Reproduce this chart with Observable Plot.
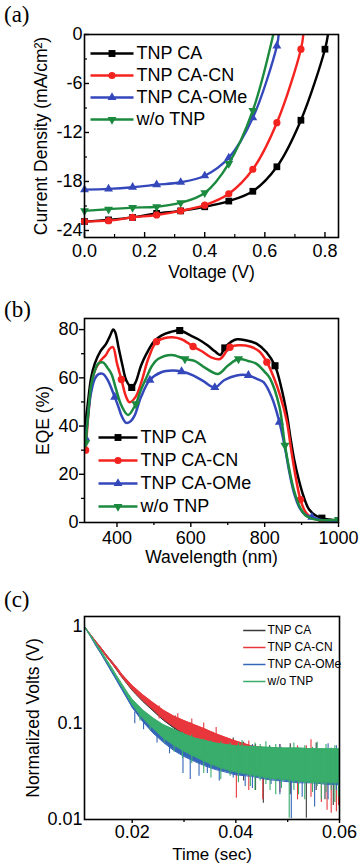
<!DOCTYPE html>
<html><head><meta charset="utf-8">
<script src="https://cdn.jsdelivr.net/npm/d3@7"></script>
<script src="https://cdn.jsdelivr.net/npm/@observablehq/plot@0.6"></script>
<style>
body{margin:0;background:#fff;}
.panel{position:relative;width:360px;overflow:hidden;}
.plabel{position:absolute;left:4px;font-family:"Liberation Serif","Times New Roman",serif;font-size:23px;line-height:1;color:#000;}
.leg{position:absolute;}
</style></head><body>
<div id="pa" class="panel" style="height:290px"><div class="plabel" style="top:3px">(a)</div></div>
<div id="pb" class="panel" style="height:290px"><div class="plabel" style="top:8px">(b)</div></div>
<div id="pc" class="panel" style="height:285px"><div class="plabel" style="top:8px">(c)</div></div>
<script>
const FONT = '"Liberation Sans", Arial, Helvetica, sans-serif';
const names = ["TNP CA", "TNP CA-CN", "TNP CA-OMe", "w/o TNP"];
const colorsAB = ["#000000", "#f5231f", "#3448bb", "#1b8a3f"];
const colorsC = ["#3a3a3a", "#e8373c", "#3566b8", "#39ad6b"];
const symbols = ["square", "circle", "triangle", "triangle"];
const rotations = [0, 0, 0, 180];

// ---------- (a) J-V ----------
const voltage = [0, 0.08, 0.16, 0.24, 0.32, 0.40, 0.48, 0.56, 0.64, 0.72, 0.80];
const jCA  = [-22.9, -22.7, -22.4, -21.9, -21.6, -21.1, -20.4, -19.2, -16.2, -10.5, -1.8];
const jCN  = [-22.9, -22.8, -22.4, -22.1, -21.6, -20.9, -19.5, -16.5, -10.8, -1.8];
const jOMe = [-19.0, -18.9, -18.7, -18.4, -18.1, -17.3, -15.1, -10.2, -1.4];
const jWo  = [-21.6, -21.4, -21.2, -21.1, -20.6, -19.4, -15.8, -9.3];
const vocA = [0.81, 0.728, 0.646, 0.628];
const xTicksA = [0, 0.2, 0.4, 0.6, 0.8];
const xMinorA = [0.1, 0.3, 0.5, 0.7];
const yTicksA = [0, -6, -12, -18, -24];
const yMinorA = [-3, -9, -15, -21];

// ---------- (b) EQE ----------
const wlCA  = [312,320,330,340,355,370,380,390,395,405,415,425,440,450,465,480,500,520,545,570,600,620,645,665,680,692,710,725,750,780,805,828,845,860,870,880,892,905,920,937,955,975,1000];
const eqCA  = [38,48,60,66,71,74,77,80,79,72,65,59,56,58,65,70,75,77.5,79,79.6,77.5,76,73.5,71,69.5,72.4,75,76,75.5,74,70.6,65,56,45,35,26,18,11,5.5,3,1.8,1.2,0.8];
const wlCN  = [315,322,330,340,355,370,380,389,400,412,425,434,450,466,485,507,530,550,575,606,630,655,679,706,730,760,785,806,825,842,860,872,885,897,912,930,960,1000];
const eqCN  = [30,44,56,63,67,69.5,72,72.7,66,59.3,52,49.9,52,58.2,68,75,76.5,76.8,76,73,71,68.5,67.8,72.7,73.5,73,71,66.5,60,52.6,42,30,18,9.5,4,1.8,0.8,0.5];
const wlOMe = [315,322,330,340,350,362,375,394,405,412,425,437,448,465,489,520,550,575,606,635,665,690,724,756,780,797,819,840,855,868,880,895,910,928,950,1000];
const eqOMe = [35,45,54,59.6,61.5,61.6,59,52,47.5,44.4,41.3,42,44.4,52,59.1,62.3,63,62.6,61,58.5,56,59,61,61,59.5,58.2,52,41.6,31,20,12,6,3.2,2.2,1.2,0.6];
const wlWo  = [315,322,330,340,350,362,375,385,398,412,430,451,465,480,495,511,548,584,610,640,674,700,729,755,778,800,815,840,855,868,880,895,910,930,960,1000];
const eqWo  = [33,45,57,63,66,66.4,64,61.6,55,48.5,44.6,49.2,55,60.2,65,67.8,69.5,67.8,67,64,61.6,65,67.8,67,65.8,62.5,59.6,48,32,21,13,6.5,3,1.5,0.9,1.2];
const mkWlCA  = [440, 570, 692, 828, 955];
const mkEqCA  = [56, 79.6, 72.4, 65, 1.8];
const mkWlCN  = [315, 412, 507, 606, 706, 806, 897];
const mkEqCN  = [30, 59.3, 75, 73, 72.7, 66.5, 9.5];
const mkWlOMe = [315, 394, 489, 575, 665, 756, 840, 928];
const mkEqOMe = [35, 52, 59.1, 62.6, 56, 61, 41.6, 2.2];
const mkWlWo  = [315, 451, 584, 729, 855, 1000];
const mkEqWo  = [33, 49.2, 67.8, 67.8, 32, 1.2];
const xTicksB = [400, 600, 800, 1000];
const xMinorB = [500, 700, 900];
const yTicksB = [0, 20, 40, 60, 80];
const yMinorB = [10, 30, 50, 70];

// ---------- (c) transient photovoltage ----------
const timeC = [0.0108,0.012,0.013,0.014,0.015,0.016,0.017,0.018,0.019,0.020,0.022,0.024,0.026,0.028,0.030,0.032,0.034,0.036,0.038,0.040,0.043,0.046,0.049,0.052,0.055,0.058,0.060];
const loCA  = [0.99,0.80,0.68,0.58,0.49,0.42,0.355,0.298,0.255,0.218,0.168,0.134,0.107,0.089,0.076,0.066,0.058,0.051,0.045,0.040,0.035,0.032,0.029,0.027,0.025,0.024,0.024];
const hiCA  = [1.0,0.82,0.70,0.60,0.51,0.44,0.375,0.318,0.277,0.240,0.193,0.159,0.133,0.115,0.103,0.093,0.085,0.077,0.070,0.064,0.057,0.054,0.052,0.051,0.050,0.049,0.049];
const loCN  = [0.99,0.80,0.68,0.58,0.49,0.42,0.36,0.30,0.26,0.222,0.172,0.138,0.110,0.092,0.078,0.068,0.060,0.052,0.046,0.041,0.036,0.033,0.030,0.028,0.026,0.024,0.024];
const hiCN  = [1.0,0.82,0.70,0.60,0.51,0.44,0.38,0.32,0.28,0.245,0.197,0.163,0.136,0.118,0.106,0.096,0.087,0.078,0.071,0.065,0.058,0.055,0.053,0.052,0.051,0.050,0.050];
const loOMe = [0.99,0.78,0.63,0.52,0.42,0.34,0.275,0.222,0.180,0.145,0.104,0.079,0.063,0.052,0.045,0.040,0.036,0.033,0.031,0.029,0.028,0.026,0.025,0.024,0.024,0.023,0.023];
const hiOMe = [1.0,0.80,0.65,0.54,0.44,0.36,0.295,0.240,0.200,0.166,0.128,0.104,0.089,0.079,0.071,0.066,0.062,0.059,0.056,0.054,0.052,0.051,0.050,0.050,0.049,0.049,0.049];
const loWo  = [0.99,0.79,0.65,0.54,0.44,0.36,0.293,0.237,0.192,0.155,0.113,0.088,0.070,0.059,0.051,0.045,0.040,0.036,0.033,0.031,0.029,0.027,0.026,0.025,0.024,0.024,0.024];
const hiWo  = [1.0,0.81,0.67,0.56,0.46,0.38,0.310,0.255,0.210,0.176,0.137,0.113,0.096,0.086,0.077,0.070,0.066,0.062,0.060,0.058,0.057,0.056,0.055,0.055,0.054,0.054,0.054];
// noise spikes (time, low, high)
const spTimeCA = [0.0283,0.0312,0.0356,0.0395,0.0415,0.0438,0.0453,0.0465,0.0505,0.0536,0.0555,0.0572,0.0588];
const spLoCA   = [0.085,0.075,0.058,0.035,0.025,0.020,0.0147,0.030,0.018,0.0103,0.020,0.016,0.014];
const spHiCA   = [0.118,0.100,0.080,0.070,0.063,0.060,0.050,0.058,0.061,0.050,0.062,0.050,0.050];
const spTimeCN = [0.0252,0.0288,0.0315,0.0338,0.0362,0.0381,0.0401,0.0425,0.0452,0.0485,0.0519,0.0536,0.0545,0.0565,0.0576,0.0584,0.0594,0.0598];
const spLoCN   = [0.110,0.085,0.070,0.060,0.052,0.045,0.0166,0.020,0.016,0.019,0.016,0.025,0.017,0.015,0.0125,0.0116,0.012,0.014];
const spHiCN   = [0.150,0.125,0.110,0.100,0.090,0.068,0.050,0.065,0.050,0.060,0.058,0.058,0.067,0.050,0.050,0.050,0.050,0.052];
const spTimeOMe = [0.0205,0.0222,0.0248,0.0272,0.0298,0.0312,0.0329,0.0345,0.0368,0.0395,0.0418,0.0432,0.0468,0.0485,0.0507,0.0528,0.0552,0.0578,0.0594];
const spLoOMe   = [0.098,0.085,0.062,0.048,0.030,0.026,0.028,0.030,0.025,0.027,0.022,0.021,0.023,0.018,0.0102,0.017,0.0135,0.016,0.020];
const spHiOMe   = [0.130,0.115,0.090,0.075,0.070,0.060,0.058,0.058,0.060,0.058,0.050,0.060,0.055,0.060,0.050,0.050,0.050,0.061,0.058];
const spTimeWo = [0.0215,0.0235,0.0262,0.0281,0.0297,0.0315,0.0338,0.0352,0.0371,0.0389,0.0405,0.0412,0.0428,0.0437,0.0447,0.0458,0.0466,0.0477,0.0488,0.0503,0.0512,0.0521,0.0533,0.0548,0.0557,0.0565,0.0574,0.0584,0.0591,0.0598];
const spLoWo   = [0.105,0.085,0.062,0.050,0.043,0.038,0.030,0.027,0.026,0.028,0.024,0.030,0.022,0.020,0.025,0.023,0.020,0.018,0.021,0.0103,0.020,0.018,0.016,0.019,0.022,0.016,0.019,0.020,0.015,0.017];
const spHiWo   = [0.130,0.115,0.095,0.085,0.080,0.075,0.068,0.065,0.064,0.062,0.062,0.066,0.058,0.062,0.060,0.064,0.057,0.060,0.056,0.055,0.062,0.054,0.058,0.056,0.063,0.053,0.060,0.055,0.058,0.052];
const xTicksC = [0.02, 0.04, 0.06];
const xMinorC = [0.03, 0.05];
const yTicksC = [0.01, 0.1, 1];

// ---------- helpers ----------
const baseStyle = {fontFamily: FONT, fontSize: "18px", color: "#000", background: "transparent", overflow: "visible"};
function miniLegend({width, height, mL, mR, mT, mB, colors, withSymbols, fontSize, strokeWidth, dx}) {
  const marks = [];
  names.forEach((n, k) => {
    marks.push(Plot.link([n], {x1: () => 0, x2: () => 1, y1: d => d, y2: d => d, stroke: colors[k], strokeWidth}));
    if (withSymbols) marks.push(Plot.dot([n], {x: () => 0.5, y: d => d, symbol: symbols[k], rotate: rotations[k], r: k === 0 ? 3.9 : k === 1 ? 3.6 : 3.3, fill: colors[k], stroke: null}));
    marks.push(Plot.text([n], {x: () => 1, y: d => d, text: d => d, textAnchor: "start", dx, fontSize, fill: "#000"}));
  });
  return Plot.plot({width, height, marginLeft: mL, marginRight: mR, marginTop: mT, marginBottom: mB,
    x: {domain: [0, 1], axis: null}, y: {type: "point", domain: names, padding: 0, axis: null},
    style: {...baseStyle, fontSize: fontSize + "px"}, marks});
}
function legendBox(panel, left, top, svg) {
  const d = document.createElement("div"); d.className = "leg";
  d.style.left = left + "px"; d.style.top = top + "px"; d.appendChild(svg); panel.appendChild(d);
}

// ---------- Panel (a) ----------
{
  const W = 360, H = 290, mL = 84, mR = 22, mT = 34, mB = 53;
  const fh = H - mT - mB, fw = W - mL - mR;
  const jA = [jCA, jCN, jOMe, jWo];
  const marks = [];
  jA.forEach((js, k) => {
    const pts = js.map((j, i) => ({v: voltage[i], j}));
    const linePts = pts.concat([{v: vocA[k], j: 0}]);
    marks.push(Plot.line(linePts, {x: "v", y: "j", stroke: colorsAB[k], strokeWidth: 2.4, curve: "catmull-rom", clip: true}));
    marks.push(Plot.dot(pts, {x: "v", y: "j", symbol: symbols[k], rotate: rotations[k], r: k === 0 ? 3.8 : k === 1 ? 3.6 : 3.3, fill: colorsAB[k], stroke: null}));
  });
  marks.push(
    Plot.tickX(xTicksA, {x: d => d, insetTop: fh - 5, stroke: "#000", strokeWidth: 1.4}),
    Plot.tickX(xMinorA, {x: d => d, insetTop: fh - 3, stroke: "#000", strokeWidth: 1.2}),
    Plot.tickY(yTicksA, {y: d => d, insetRight: fw - 5, stroke: "#000", strokeWidth: 1.4}),
    Plot.tickY(yMinorA, {y: d => d, insetRight: fw - 3, stroke: "#000", strokeWidth: 1.2}),
    Plot.frame({stroke: "#000", strokeWidth: 1.6}),
    Plot.axisX({ticks: xTicksA, tickSize: 0, tickPadding: 7, tickFormat: d3.format(".1f"), fontSize: 18, label: null}),
    Plot.axisY({ticks: yTicksA, tickSize: 0, tickPadding: 2, tickFormat: d => String(d), fontSize: 18, label: null}),
    Plot.text(["Voltage (V)"], {frameAnchor: "bottom", dy: 35, fontSize: 17.5, textAnchor: "middle", lineAnchor: "middle"}),
    Plot.text(["Current Density (mA/cm²)"], {frameAnchor: "left", rotate: -90, dx: -43, fontSize: 17.5, textAnchor: "middle", lineAnchor: "middle"})
  );
  const chart = Plot.plot({width: W, height: H, marginLeft: mL, marginRight: mR, marginTop: mT, marginBottom: mB,
    x: {domain: [0, 0.845], label: null}, y: {domain: [-24.86, 0], label: null}, style: baseStyle, marks});
  const pa = document.getElementById("pa");
  pa.appendChild(chart);
  legendBox(pa, 86, 40, miniLegend({width: 200, height: 92, mL: 4, mR: 153, mT: 12, mB: 13, colors: colorsAB, withSymbols: true, fontSize: 18, strokeWidth: 2.4, dx: 3}));
}

// ---------- Panel (b) ----------
{
  const W = 360, H = 290, mL = 84, mR = 22, mT = 28, mB = 58;
  const wl = [wlCA, wlCN, wlOMe, wlWo], eq = [eqCA, eqCN, eqOMe, eqWo];
  const mw = [mkWlCA, mkWlCN, mkWlOMe, mkWlWo], me = [mkEqCA, mkEqCN, mkEqOMe, mkEqWo];
  const marks = [];
  wl.forEach((ws, k) => {
    const pts = ws.map((w, i) => ({w, e: eq[k][i]}));
    const mk = mw[k].map((w, i) => ({w, e: me[k][i]}));
    marks.push(Plot.line(pts, {x: "w", y: "e", stroke: colorsAB[k], strokeWidth: 2.5, curve: "catmull-rom", clip: true}));
    marks.push(Plot.dot(mk, {x: "w", y: "e", symbol: symbols[k], rotate: rotations[k], r: k === 0 ? 4 : k === 1 ? 3.7 : 3.4, fill: colorsAB[k], stroke: null, clip: true}));
  });
  marks.push(
    Plot.frame({stroke: "#000", strokeWidth: 1.6}),
    Plot.axisX({ticks: xMinorB, tickSize: 3, tickFormat: () => "", strokeWidth: 1.3, label: null}),
    Plot.axisY({ticks: yMinorB, tickSize: 3, tickFormat: () => "", strokeWidth: 1.3, label: null}),
    Plot.axisX({ticks: xTicksB, tickSize: 5, tickPadding: 4, strokeWidth: 1.4, tickFormat: d => String(d), fontSize: 18, label: null}),
    Plot.axisY({ticks: yTicksB, tickSize: 5, tickPadding: 1, strokeWidth: 1.4, tickFormat: d => String(d), fontSize: 18, label: null}),
    Plot.text(["Wavelength (nm)"], {frameAnchor: "bottom", dy: 35, fontSize: 17.5, textAnchor: "middle", lineAnchor: "middle"}),
    Plot.text(["EQE (%)"], {frameAnchor: "left", rotate: -90, dx: -41, fontSize: 17.5, textAnchor: "middle", lineAnchor: "middle"})
  );
  const chart = Plot.plot({width: W, height: H, marginLeft: mL, marginRight: mR, marginTop: mT, marginBottom: mB,
    x: {domain: [312, 1000], label: null}, y: {domain: [0, 84.6], label: null}, style: baseStyle, marks});
  const pb = document.getElementById("pb");
  pb.appendChild(chart);
  legendBox(pb, 90, 135, miniLegend({width: 200, height: 92, mL: 8, mR: 153, mT: 11.7, mB: 11, colors: colorsAB, withSymbols: true, fontSize: 18, strokeWidth: 2.5, dx: 3}));
}

// ---------- Panel (c) ----------
{
  const W = 360, H = 285, mL = 84, mR = 21, mT = 36, mB = 46;
  const lo = [loCA, loCN, loOMe, loWo], hi = [hiCA, hiCN, hiOMe, hiWo];
  const spT = [spTimeCA, spTimeCN, spTimeOMe, spTimeWo], spL = [spLoCA, spLoCN, spLoOMe, spLoWo], spH = [spHiCA, spHiCN, spHiOMe, spHiWo];
  const marks = [];
  lo.forEach((ls, k) => {
    const rows = timeC.map((t, i) => ({t, lo: ls[i], hi: hi[k][i]}));
    const sp = spT[k].map((t, i) => ({t, lo: spL[k][i], hi: spH[k][i]}));
    const c = colorsC[k];
    marks.push(
      Plot.areaY(rows, {x: "t", y1: "lo", y2: "hi", fill: c, clip: true}),
      Plot.line(rows, {x: "t", y: "lo", stroke: c, strokeWidth: 1, clip: true}),
      Plot.line(rows, {x: "t", y: "hi", stroke: c, strokeWidth: 1, clip: true}),
      Plot.ruleX(sp, {x: "t", y1: "lo", y2: "hi", stroke: c, strokeWidth: 1.1, clip: true})
    );
  });
  marks.push(
    Plot.frame({stroke: "#000", strokeWidth: 1.6}),
    Plot.axisX({ticks: xMinorC, tickSize: 3, tickFormat: () => "", strokeWidth: 1.3, label: null}),
    Plot.axisX({ticks: xTicksC, tickSize: 4, tickPadding: 2, strokeWidth: 1.4, tickFormat: d => String(d), fontSize: 18, label: null}),
    Plot.axisY({ticks: yTicksC, tickSize: 0, tickPadding: 2, tickFormat: d => String(d), fontSize: 18, label: null}),
    Plot.text(["Time (sec)"], {frameAnchor: "bottom", dy: 35, fontSize: 17, textAnchor: "middle", lineAnchor: "middle"}),
    Plot.text(["Normalized Volts (V)"], {frameAnchor: "left", rotate: -90, dx: -51, fontSize: 17.5, textAnchor: "middle", lineAnchor: "middle"})
  );
  const chart = Plot.plot({width: W, height: H, marginLeft: mL, marginRight: mR, marginTop: mT, marginBottom: mB,
    x: {domain: [0.0108, 0.06], label: null}, y: {type: "log", domain: [0.01, 1.27], label: null}, style: baseStyle, marks});
  const pc = document.getElementById("pc");
  pc.appendChild(chart);
  legendBox(pc, 236, 40, miniLegend({width: 124, height: 70, mL: 6.7, mR: 95, mT: 9.3, mB: 8.3, colors: colorsC, withSymbols: false, fontSize: 12, strokeWidth: 1.5, dx: 2}));
}
</script>
</body></html>
